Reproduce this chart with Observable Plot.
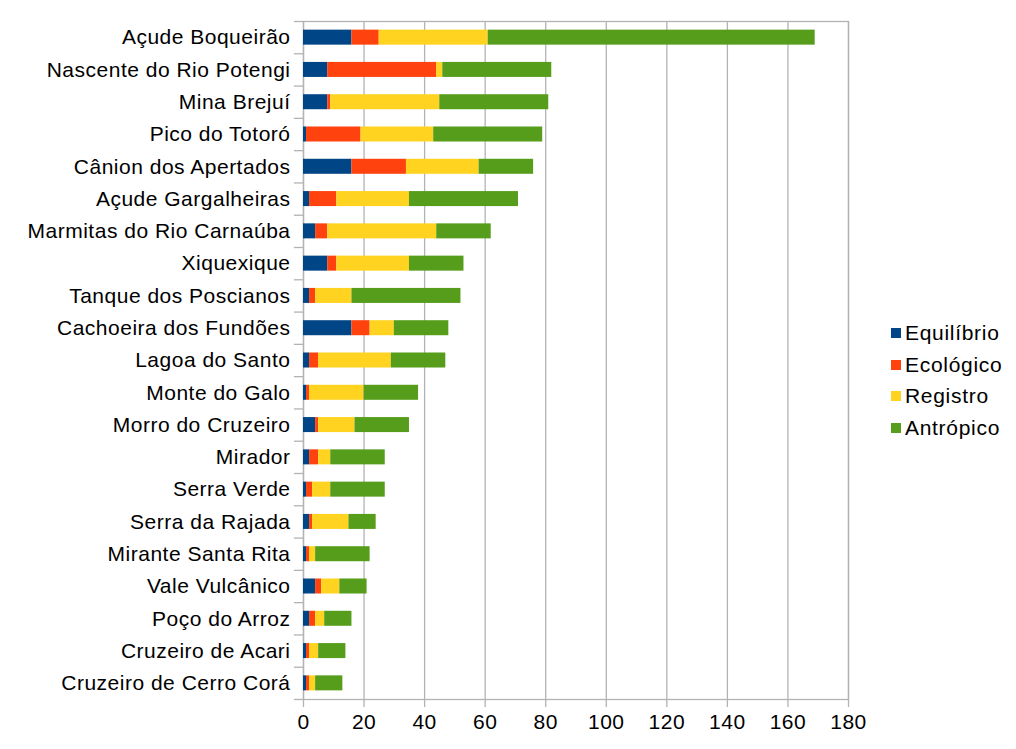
<!DOCTYPE html>
<html><head><meta charset="utf-8">
<script src="https://cdn.jsdelivr.net/npm/d3@7"></script>
<script src="https://cdn.jsdelivr.net/npm/@observablehq/plot@0.6"></script>
<style>
body{margin:0;background:#fff;font-family:"Liberation Sans",Arial,sans-serif;}
#wrap{position:relative;width:1016px;height:749px;overflow:hidden;}
#legend{position:absolute;left:891px;top:317px;font-size:21px;letter-spacing:0.7px;color:#000;}
.row{display:flex;align-items:center;height:31.7px;white-space:nowrap;}
.sw{width:10px;height:10px;margin-right:4px;flex:none;}
</style></head><body><div id="wrap"><div id="legend"></div></div>
<script>
const categories = ["Açude Boqueirão","Nascente do Rio Potengi","Mina Brejuí","Pico do Totoró","Cânion dos Apertados","Açude Gargalheiras","Marmitas do Rio Carnaúba","Xiquexique","Tanque dos Poscianos","Cachoeira dos Fundões","Lagoa do Santo","Monte do Galo","Morro do Cruzeiro","Mirador","Serra Verde","Serra da Rajada","Mirante Santa Rita","Vale Vulcânico","Poço do Arroz","Cruzeiro de Acari","Cruzeiro de Cerro Corá"];
const equilibrio = [16,8,8,1,16,2,4,8,2,16,2,1,4,2,1,2,1,4,2,1,1];
const ecologico  = [9,36,1,18,18,9,4,3,2,6,3,1,1,3,2,1,1,2,2,1,1];
const registro   = [36,2,36,24,24,24,36,24,12,8,24,18,12,4,6,12,2,6,3,3,2];
const antropico  = [108,36,36,36,18,36,18,18,36,18,18,18,18,18,18,9,18,9,9,9,9];
const series = ["Equilíbrio","Ecológico","Registro","Antrópico"];
const colors = ["#004586","#ff420e","#ffd320","#579d1c"];
const xTicks = [0,20,40,60,80,100,120,140,160,180];

const seriesValues = [equilibrio, ecologico, registro, antropico];
const table = [];
categories.forEach((c, i) => {
  series.forEach((s, j) => table.push({local: c, serie: s, valor: seriesValues[j][i]}));
});

const W = 1016, H = 749, mt = 21, mb = 50, ml = 303, mr = 168;
const step = (H - mt - mb) / categories.length;
const gridColor = "#b3b3b3";

const chart = Plot.plot({
  width: W, height: H,
  marginTop: mt, marginBottom: mb, marginLeft: ml, marginRight: mr,
  style: {fontFamily: '"Liberation Sans", Arial, sans-serif', fontSize: "21px", letterSpacing: "0.5px", color: "#000", background: "#fff", overflow: "visible"},
  x: {domain: [0, 180], ticks: xTicks, label: null},
  y: {domain: categories, paddingInner: 0.535, paddingOuter: 0.2675, round: false, label: null},
  color: {domain: series, range: colors},
  marks: [
    Plot.gridX(xTicks, {stroke: gridColor, strokeOpacity: 1, strokeWidth: 1.3}),
    Plot.frame({stroke: gridColor, strokeWidth: 1.3}),
    Plot.ruleY(categories, {y: d => d, x1: -3, x2: 0, dy: -step / 2, stroke: gridColor, strokeWidth: 1.3}),
    Plot.ruleY(categories.slice(-1), {y: d => d, x1: -3, x2: 0, dy: step / 2, stroke: gridColor, strokeWidth: 1.3}),
    Plot.barX(table, Plot.stackX({y: "local", x: "valor", z: "serie", fill: "serie"})),
    Plot.axisX(xTicks, {tickSize: 8, tickPadding: 7, stroke: gridColor, strokeWidth: 1.3, label: null, tickFormat: d => String(d)}),
    Plot.axisY({tickSize: 0, tickPadding: 13, label: null})
  ]
});
document.getElementById("wrap").prepend(chart);

const leg = document.getElementById("legend");
series.forEach((s, j) => {
  const r = document.createElement("div");
  r.className = "row";
  const sw = document.createElement("div");
  sw.className = "sw";
  sw.style.background = colors[j];
  const t = document.createElement("span");
  t.textContent = s;
  r.append(sw, t);
  leg.append(r);
});
</script>
</body></html>
